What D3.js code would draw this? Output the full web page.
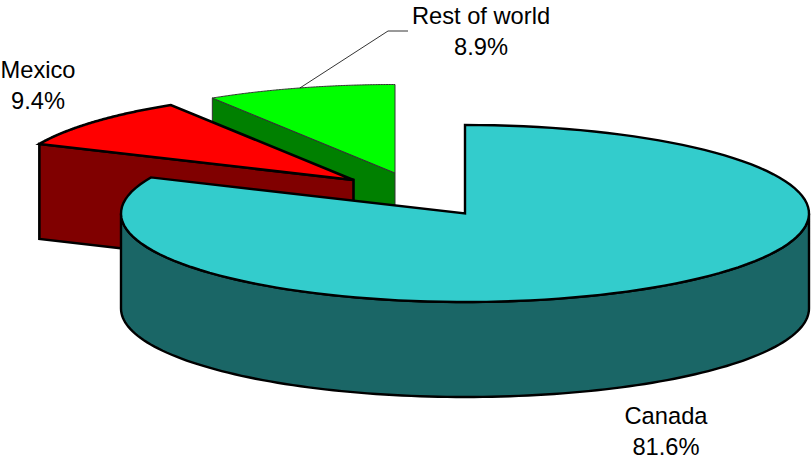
<!DOCTYPE html>
<html>
<head>
<meta charset="utf-8">
<script src="https://cdn.jsdelivr.net/npm/d3@7/dist/d3.min.js"></script>
<style>
html, body { margin: 0; padding: 0; background: #fff; }
svg { display: block; }
text { font-family: "Liberation Sans", Arial, sans-serif; font-size: 23.7px; fill: #000; text-anchor: middle; }
</style>
</head>
<body>
<svg id="chart" width="812" height="457"></svg>
<script>
// Shares of the total, in percent
const regions = ["Canada", "Mexico", "Rest of world"];
const shares = [81.6, 9.4, 8.9];

const topColors = ["#33CCCC", "#FF0000", "#00FF00"];
const sideColors = ["#1A6666", "#800000", "#008000"];
const strokeWidths = [2.4, 2.6, 1];
const strokeColors = ["#000", "#000", "#333"];

// Each slice is pulled out of the pie, so it has its own apex
const apexes = [[465, 213.5], [353.5, 180], [395, 173]];
const labelPositions = [[666, 424], [38, 78], [481, 24]];

const rx = 344, ry = 88.5, depth = 95;

const svg = d3.select("#chart");
const slices = d3.pie().sort(null)(shares);

// Tilted-disc projection: pie angle (clockwise from 12 o'clock) to screen position
const rimX = d3.scaleLinear().domain([-1, 1]).range([-rx, rx]);
const rimY = d3.scaleLinear().domain([-1, 1]).range([-ry, ry]);
const rimPoint = (apex, a, drop = 0) => [
  apex[0] + rimX(Math.sin(a)),
  apex[1] - rimY(Math.cos(a)) + drop
];
const line = d3.line();
const rim = (apex, a0, a1, drop = 0) =>
  d3.range(0, 121).map(i => rimPoint(apex, a0 + (a1 - a0) * i / 120, drop));

// Back to front: Rest of world, Mexico, Canada
[2, 1, 0].forEach(i => {
  const s = slices[i], apex = apexes[i];
  const g = svg.append("g")
    .attr("stroke", strokeColors[i])
    .attr("stroke-width", strokeWidths[i])
    .attr("stroke-linejoin", "miter");

  if (i === 0) {
    // Curved outer wall across the front half
    const a0 = Math.PI / 2, a1 = 3 * Math.PI / 2;
    const top = rim(apex, a0, a1);
    const bottom = rim(apex, a0, a1, depth).reverse();
    g.append("path").attr("d", line(top.concat(bottom)) + "Z").attr("fill", sideColors[i]);
  } else {
    // Flat cut face running from the apex out to the leading edge of the slice
    const p = rimPoint(apex, s.startAngle);
    const face = [p, apex, [apex[0], apex[1] + depth], [p[0], p[1] + depth]];
    g.append("path").attr("d", line(face) + "Z").attr("fill", sideColors[i]);
  }

  // Top surface of the slice
  const outline = [apex].concat(rim(apex, s.startAngle, s.endAngle));
  g.append("path").attr("d", line(outline) + "Z").attr("fill", topColors[i]);
});

// Leader line from the middle of the Rest of world rim to its label
const restMid = rimPoint(apexes[2], (slices[2].startAngle + slices[2].endAngle) / 2);
svg.append("path")
  .attr("d", line([restMid, [388, 31], [408, 31]]))
  .attr("fill", "none").attr("stroke", "#000").attr("stroke-width", 0.8);

// Labels: name above, share below
regions.forEach((name, i) => {
  const [x, y] = labelPositions[i];
  const t = svg.append("text").attr("x", x).attr("y", y);
  t.append("tspan").attr("x", x).text(name);
  t.append("tspan").attr("x", x).attr("dy", 30.5).text(d3.format(".1f")(shares[i]) + "%");
});
</script>
</body>
</html>
